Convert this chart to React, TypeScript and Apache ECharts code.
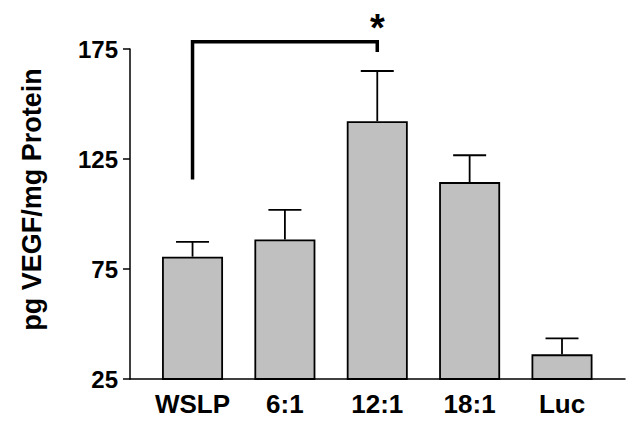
import React, { useEffect, useRef } from "react";
import * as echarts from "echarts";

const categories = ["WSLP", "6:1", "12:1", "18:1", "Luc"];
const means = [80.6, 88.4, 142.2, 114.5, 36.2];
const upperErr = [87.3, 101.9, 165.0, 126.7, 43.5];
const yTicks = [25, 75, 125, 175];
// significance bracket: [fromIndex, toIndex, fromLow, toLow, top]
const bracket = [[0, 2, 115.7, 173.6, 178.3]];
const sigLabel = "*";

const FONT = "'Liberation Sans', Arial, Helvetica, sans-serif";

export default function App() {
  const ref = useRef<HTMLDivElement>(null);
  useEffect(() => {
    if (!ref.current) return;
    const chart = echarts.init(ref.current, null, { renderer: "svg" });
    const barData = means.map((v, i) => [i, v]);
    const errData = means.map((v, i) => [i, v, upperErr[i]]);
    chart.setOption({
      animation: false,
      backgroundColor: "#ffffff",
      grid: {
        left: 130,
        right: 13,
        top: 49,
        bottom: 51,
        containLabel: false,
        outerBoundsMode: "none",
      },
      xAxis: {
        type: "value",
        min: -0.677,
        max: 4.682,
        splitLine: { show: false },
        axisLine: { show: true, onZero: false, lineStyle: { color: "#000", width: 1.5 } },
        axisTick: { show: false },
        axisLabel: {
          customValues: [0, 1, 2, 3, 4],
          formatter: (v: number) => categories[Math.round(v)] ?? "",
          color: "#000",
          fontFamily: FONT,
          fontWeight: "bold",
          fontSize: 26,
          margin: 12,
        },
      },
      yAxis: {
        type: "value",
        min: 25,
        max: 175,
        name: "pg VEGF/mg Protein",
        nameLocation: "middle",
        nameRotate: 90,
        nameGap: 85,
        nameTextStyle: {
          color: "#000",
          fontFamily: FONT,
          fontWeight: "bold",
          fontSize: 27,
          padding: [0, 0, 0, 29],
        },
        splitLine: { show: false },
        axisLine: { show: true, onZero: false, lineStyle: { color: "#000", width: 1.5 } },
        axisTick: {
          show: true,
          customValues: yTicks,
          length: 7,
          lineStyle: { color: "#000", width: 1.5 },
        },
        axisLabel: {
          customValues: yTicks,
          color: "#000",
          fontFamily: FONT,
          fontWeight: "bold",
          fontSize: 24,
          margin: 12,
        },
      },
      series: [
        {
          type: "bar",
          data: barData,
          barWidth: 61,
          itemStyle: { color: "#c0c0c0", borderColor: "#000", borderWidth: 1.8 },
          z: 2,
        },
        {
          type: "custom",
          data: errData,
          z: 3,
          renderItem: (params: any, api: any) => {
            const x = api.value(0);
            const lo = api.coord([x, api.value(1)]);
            const hi = api.coord([x, api.value(2)]);
            const half = 16.5;
            return {
              type: "group",
              children: [
                {
                  type: "line",
                  shape: { x1: lo[0], y1: lo[1], x2: hi[0], y2: hi[1] },
                  style: { stroke: "#000", lineWidth: 1.8 },
                },
                {
                  type: "line",
                  shape: { x1: hi[0] - half, y1: hi[1], x2: hi[0] + half, y2: hi[1] },
                  style: { stroke: "#000", lineWidth: 1.8 },
                },
              ],
            };
          },
        },
        {
          type: "custom",
          data: bracket,
          clip: false,
          z: 4,
          renderItem: (params: any, api: any) => {
            const a = api.value(0);
            const b = api.value(1);
            const p1 = api.coord([a, api.value(2)]);
            const p2 = api.coord([a, api.value(4)]);
            const p3 = api.coord([b, api.value(4)]);
            const p4 = api.coord([b, api.value(3)]);
            return {
              type: "group",
              children: [
                {
                  type: "polyline",
                  shape: { points: [p1, p2, p3, p4] },
                  style: { stroke: "#000", lineWidth: 3.5, fill: null, lineJoin: "miter" },
                },
                {
                  type: "text",
                  x: p3[0],
                  y: p3[1] - 14,
                  style: {
                    text: sigLabel,
                    fill: "#000",
                    font: `bold 38px ${FONT}`,
                    align: "center",
                    verticalAlign: "middle",
                  },
                },
              ],
            };
          },
        },
      ],
    });
    return () => chart.dispose();
  }, []);
  return (
    <div
      ref={ref}
      style={{ position: "fixed", left: 0, top: 0, width: 638, height: 430 }}
    />
  );
}
